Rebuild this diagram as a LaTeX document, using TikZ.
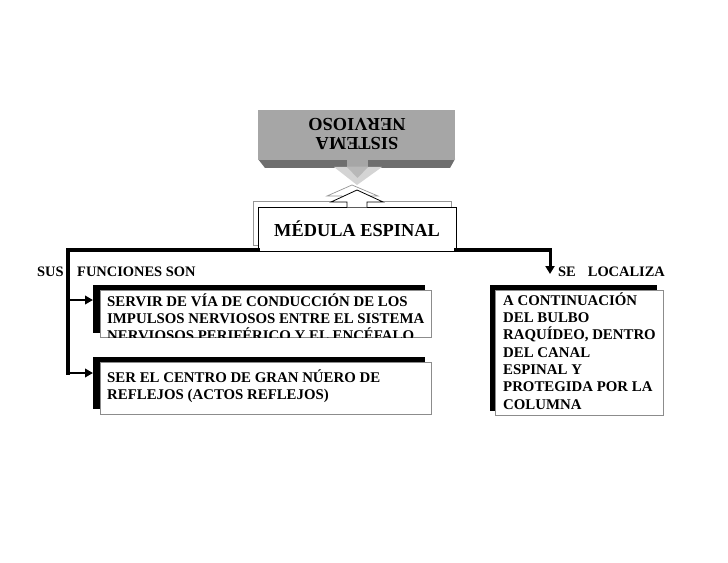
\documentclass[tikz,border=0pt]{standalone}
\usepackage{fontspec}
\setmainfont{Liberation Serif}
\usetikzlibrary{arrows.meta}
\definecolor{face}{RGB}{166,166,166}
\definecolor{band}{RGB}{110,110,110}
\definecolor{headlight}{RGB}{212,212,212}
\definecolor{headmid}{RGB}{184,184,184}
\definecolor{shadowline}{RGB}{150,150,150}
\definecolor{boxline}{RGB}{140,140,140}
\begin{document}
\begin{tikzpicture}[x=1bp,y=-1bp,
  txt/.style={font=\bfseries\fontsize{14.9}{17.4}\selectfont, inner sep=0pt, align=left, anchor=north west},
  lbl/.style={font=\bfseries\fontsize{14.5}{17.3}\selectfont, inner sep=0pt, anchor=base west},
  big/.style={font=\bfseries\fontsize{18.4}{18.5}\selectfont, inner sep=0pt, align=center},
  heavy/.style={line width=4bp, line cap=rect, line join=miter},
  branch/.style={line width=2.6bp, -{Triangle[length=8bp,width=8.5bp]}},
  blackshadow/.style={fill=black, inner sep=0pt, anchor=north west},
  whitebox/.style={fill=white, draw=boxline, line width=0.8bp, inner sep=0pt, anchor=north west},
]
\useasboundingbox (0,0) rectangle (728,563);
\fill[white] (0,0) rectangle (728,563);

% ---- SISTEMA NERVIOSO (3D gray block, upside down text)
\fill[band] (258,159) -- (455,159) -- (450,168) -- (265,168) -- cycle;
\node[fill=face, inner sep=0pt, minimum width=197bp, minimum height=50bp, anchor=north west] (sn) at (258,110) {};
\node[big, rotate=180] (sntext) at (357,134) {SISTEMA\\NERVIOSO};
\fill[face] (347,158) rectangle (368,168);
\fill[headlight] (334,167) -- (382,167) -- (357,185) -- cycle;
\fill[headmid] (347,167) -- (368,167) -- (357.5,178) -- cycle;

% ---- MEDULA ESPINAL (outlined box with up arrow and gray shadow)
\draw[shadowline, line width=0.7bp] (253,201) rectangle (451,245);
\filldraw[fill=white, draw=shadowline, line width=0.7bp] (342,202) -- (342,196) -- (327,196) -- (352,185) -- (378,196) -- (362,196) -- (362,202);
\node[draw=black, fill=white, line width=0.8bp, minimum width=198bp, minimum height=44bp, big] (med) at (357,229) {MÉDULA ESPINAL};
\filldraw[fill=white, draw=black, line width=0.8bp] (347,207.4) -- (347,202) -- (331,202) -- (357,190) -- (383,202) -- (367,202) -- (367,207.4);

% ---- boxes
\node[blackshadow, minimum width=332bp, minimum height=48bp] (b1s) at (93,285) {};
\node[whitebox, minimum width=331bp, minimum height=47bp] (b1) at (100,290) {};
\begin{scope}
  \clip ([shift={(0.6,-0.6)}]b1.south west) rectangle ([shift={(-0.6,0.6)}]b1.north east);
  \node[txt] (t1) at (107,292) {\rule{0pt}{14bp}SERVIR DE VÍA DE CONDUCCIÓN DE LOS\\IMPULSOS NERVIOSOS ENTRE EL SISTEMA\\NERVIOSOS PERIFÉRICO Y EL ENCÉFALO};
\end{scope}

\node[blackshadow, minimum width=332bp, minimum height=52bp] (b2s) at (93,357) {};
\node[whitebox, minimum width=331bp, minimum height=52bp] (b2) at (100,362) {};
\node[txt] (t2) at (107,368) {\rule{0pt}{14bp}SER EL CENTRO DE GRAN NÚERO DE\\REFLEJOS (ACTOS REFLEJOS)};

\node[blackshadow, minimum width=167bp, minimum height=126bp] (b3s) at (490,285) {};
\node[whitebox, minimum width=168bp, minimum height=125bp] (b3) at (495,290) {};
\node[txt] (t3) at (503,291) {\rule{0pt}{14bp}A CONTINUACIÓN\\DEL BULBO\\RAQUÍDEO, DENTRO\\DEL CANAL\\ESPINAL Y\\PROTEGIDA POR LA\\COLUMNA};

% ---- labels
\node[lbl] (sus) at (37,276) {SUS};
\node[lbl] (fun) at (77,276) {FUNCIONES SON};
\node[lbl] (loc) at (558,276) {SE\hspace{12bp}LOCALIZA};

% ---- connectors
\coordinate (lt) at (68,250);
\coordinate (lb) at (68,373);
\coordinate (j1) at (68,300);
\coordinate (rc) at (550,250);
\coordinate (rtip) at (550,274);
\draw[heavy] (med.south west |- lt) -- (lt) -- (lb);
\draw[branch] (j1) -- (j1 -| b1s.west);
\draw[branch] (lb) -- (lb -| b2s.west);
\draw[heavy] (med.south east |- rc) -- (rc);
\draw[line width=3bp, -{Triangle[length=8bp,width=9bp]}] (rc) -- (rtip);
\end{tikzpicture}
\end{document}
